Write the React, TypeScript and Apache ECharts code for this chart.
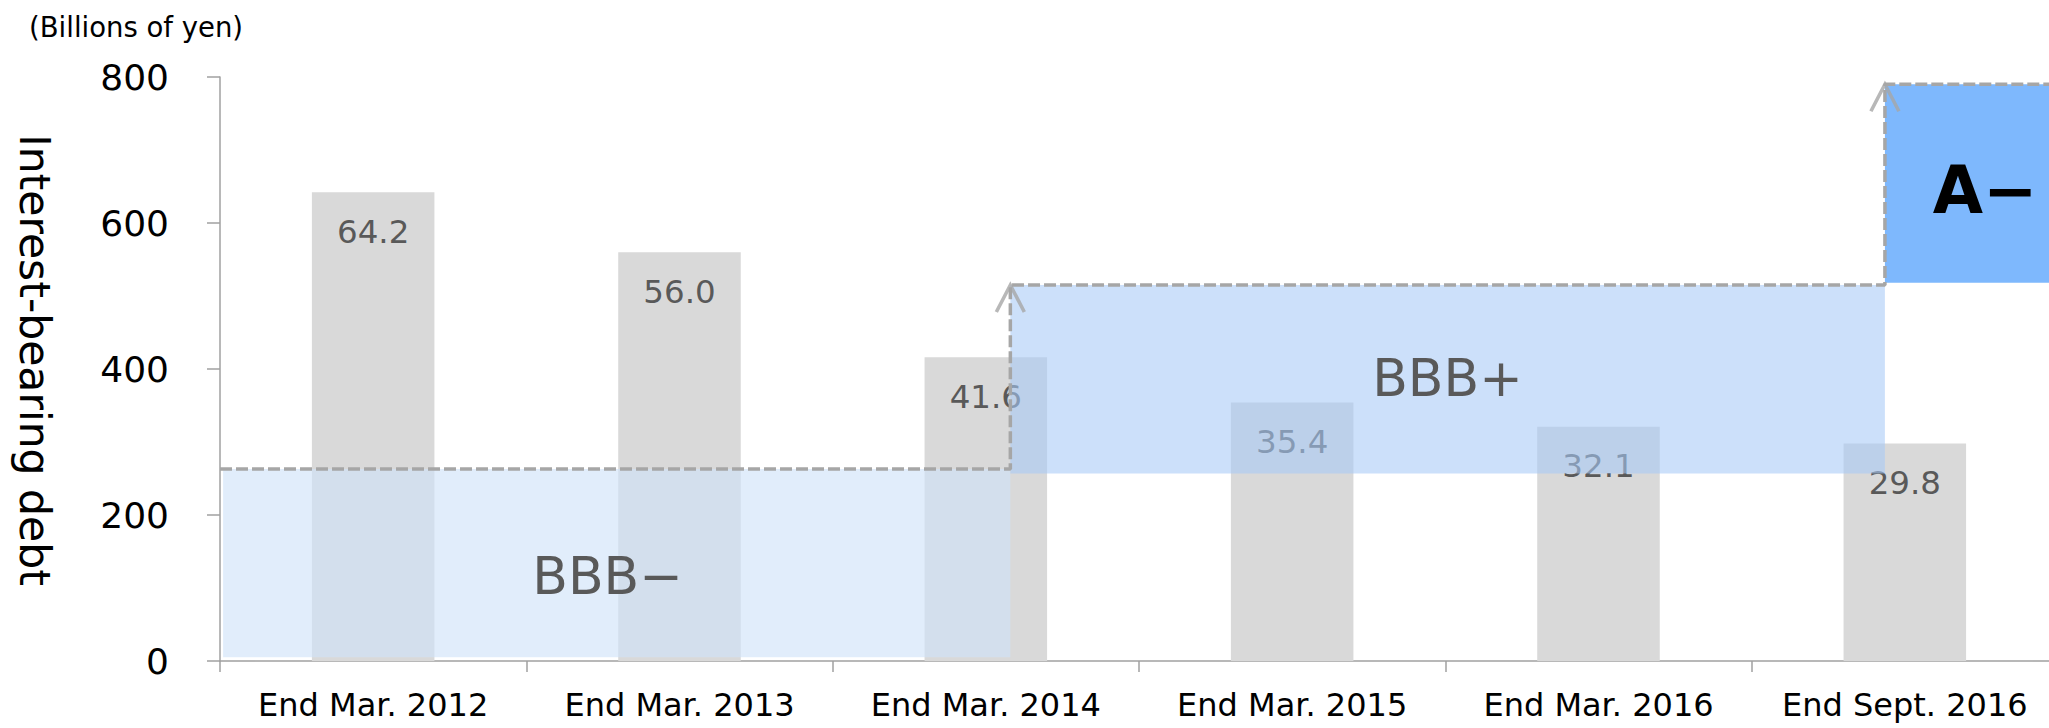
import React, { useEffect, useRef } from "react";
import * as echarts from "echarts";

const categories = [
  "End Mar. 2012",
  "End Mar. 2013",
  "End Mar. 2014",
  "End Mar. 2015",
  "End Mar. 2016",
  "End Sept. 2016",
];
const debtValues = [642, 560, 416, 354, 321, 298];
const barLabels = ["64.2", "56.0", "41.6", "35.4", "32.1", "29.8"];

const yTicks = { min: 0, max: 800, interval: 200 };

const ratingNames = ["BBB\u2212", "BBB+", "A\u2212"];
const ratingStart = [0.01, 2.58, 5.435];
const ratingEnd = [2.58, 5.435, 6];
const ratingLow = [5, 257, 518];
const ratingHigh = [263, 515, 790];
const ratingLabelX = [1.265, 4.007, 5.762];
const ratingLabelY = [116, 388, 644];

const stepX = [0, 2.58, 2.58, 5.435, 5.435, 6];
const stepY = [263, 263, 515, 515, 790, 790];

const boxFills = ["rgba(207,226,248,0.63)", "rgba(167,202,247,0.58)", "#7EB8FD"];
const boxText = [
  { color: "#595959", size: 52, weight: "normal" },
  { color: "#595959", size: 52, weight: "normal" },
  { color: "#000000", size: 65, weight: "bold" },
];

export default function App() {
  const ref = useRef<HTMLDivElement>(null);
  useEffect(() => {
    if (!ref.current) return;
    const chart = echarts.init(ref.current, null, { renderer: "svg" });

    const stepData = stepX.map((x, i) => [x, stepY[i]]);
    const arrowData = stepData.filter(
      (p, i) => i > 0 && p[0] === stepData[i - 1][0] && p[1] > stepData[i - 1][1]
    );
    const boxData = ratingNames.map((_, i) => [
      ratingStart[i],
      ratingEnd[i],
      ratingLow[i],
      ratingHigh[i],
      ratingLabelX[i],
      ratingLabelY[i],
    ]);

    chart.setOption({
      animation: false,
      textStyle: { fontFamily: "DejaVu Sans" },
      title: {
        text: "(Billions of yen)",
        left: 24,
        top: 8,
        textStyle: { fontSize: 27.5, fontWeight: "normal", color: "#000", fontFamily: "DejaVu Sans" },
      },
      grid: { left: 220, right: 2, top: 77, bottom: 67 },
      xAxis: [
        {
          type: "category",
          data: categories,
          axisLine: { lineStyle: { color: "#A0A0A0", width: 1.5 } },
          axisTick: { show: true, interval: 0, length: 11, lineStyle: { color: "#A0A0A0", width: 1.5 } },
          axisLabel: { interval: 0, fontSize: 32, color: "#000", margin: 28 },
        },
        { type: "value", min: 0, max: 6, show: false },
      ],
      yAxis: {
        type: "value",
        min: yTicks.min,
        max: yTicks.max,
        interval: yTicks.interval,
        name: "Interest-bearing debt",
        nameLocation: "middle",
        nameRotate: -90,
        nameGap: 164,
        nameTextStyle: { fontSize: 42.5, color: "#000", padding: [0, 18, 0, 0] },
        axisLine: { show: true, lineStyle: { color: "#A0A0A0", width: 1.5 } },
        axisTick: { show: true, length: 13, lineStyle: { color: "#A0A0A0", width: 1.5 } },
        axisLabel: { fontSize: 36, color: "#000", margin: 51 },
        splitLine: { show: false },
      },
      series: [
        {
          type: "bar",
          data: debtValues,
          barWidth: "40%",
          z: 2,
          itemStyle: { color: "#D9D9D9" },
          label: {
            show: true,
            position: "insideTop",
            distance: 23,
            fontSize: 32.5,
            color: "#595959",
            formatter: (p: any) => barLabels[p.dataIndex],
          },
        },
        {
          type: "custom",
          xAxisIndex: 1,
          z: 5,
          data: boxData,
          renderItem: (params: any, api: any) => {
            const i = params.dataIndex;
            const tl = api.coord([api.value(0), api.value(3)]);
            const br = api.coord([api.value(1), api.value(2)]);
            const lp = api.coord([api.value(4), api.value(5)]);
            return {
              type: "group",
              children: [
                {
                  type: "rect",
                  shape: { x: tl[0], y: tl[1], width: br[0] - tl[0], height: br[1] - tl[1] },
                  style: { fill: boxFills[i] },
                },
                {
                  type: "text",
                  x: lp[0],
                  y: lp[1],
                  style: {
                    text: ratingNames[i],
                    fill: boxText[i].color,
                    fontSize: boxText[i].size,
                    fontWeight: boxText[i].weight,
                    fontFamily: "DejaVu Sans",
                    align: "center",
                    verticalAlign: "middle",
                  },
                },
              ],
            };
          },
        },
        {
          type: "line",
          xAxisIndex: 1,
          z: 6,
          data: stepData,
          symbol: "none",
          lineStyle: { color: "#A6A6A6", width: 3.5, type: [12, 4] },
        },
        {
          type: "scatter",
          xAxisIndex: 1,
          z: 7,
          data: arrowData,
          symbol: "path://M0,27 L14,0 L28,27",
          symbolSize: [28, 27],
          symbolOffset: [0, 13.5],
          itemStyle: { color: "rgba(0,0,0,0)", borderColor: "#A6A6A6", borderWidth: 3.5 },
        },
      ],
    });
    return () => chart.dispose();
  }, []);
  return (
    <div
      ref={ref}
      style={{ position: "fixed", left: 0, top: 0, width: 2060, height: 728, background: "#fff" }}
    />
  );
}
